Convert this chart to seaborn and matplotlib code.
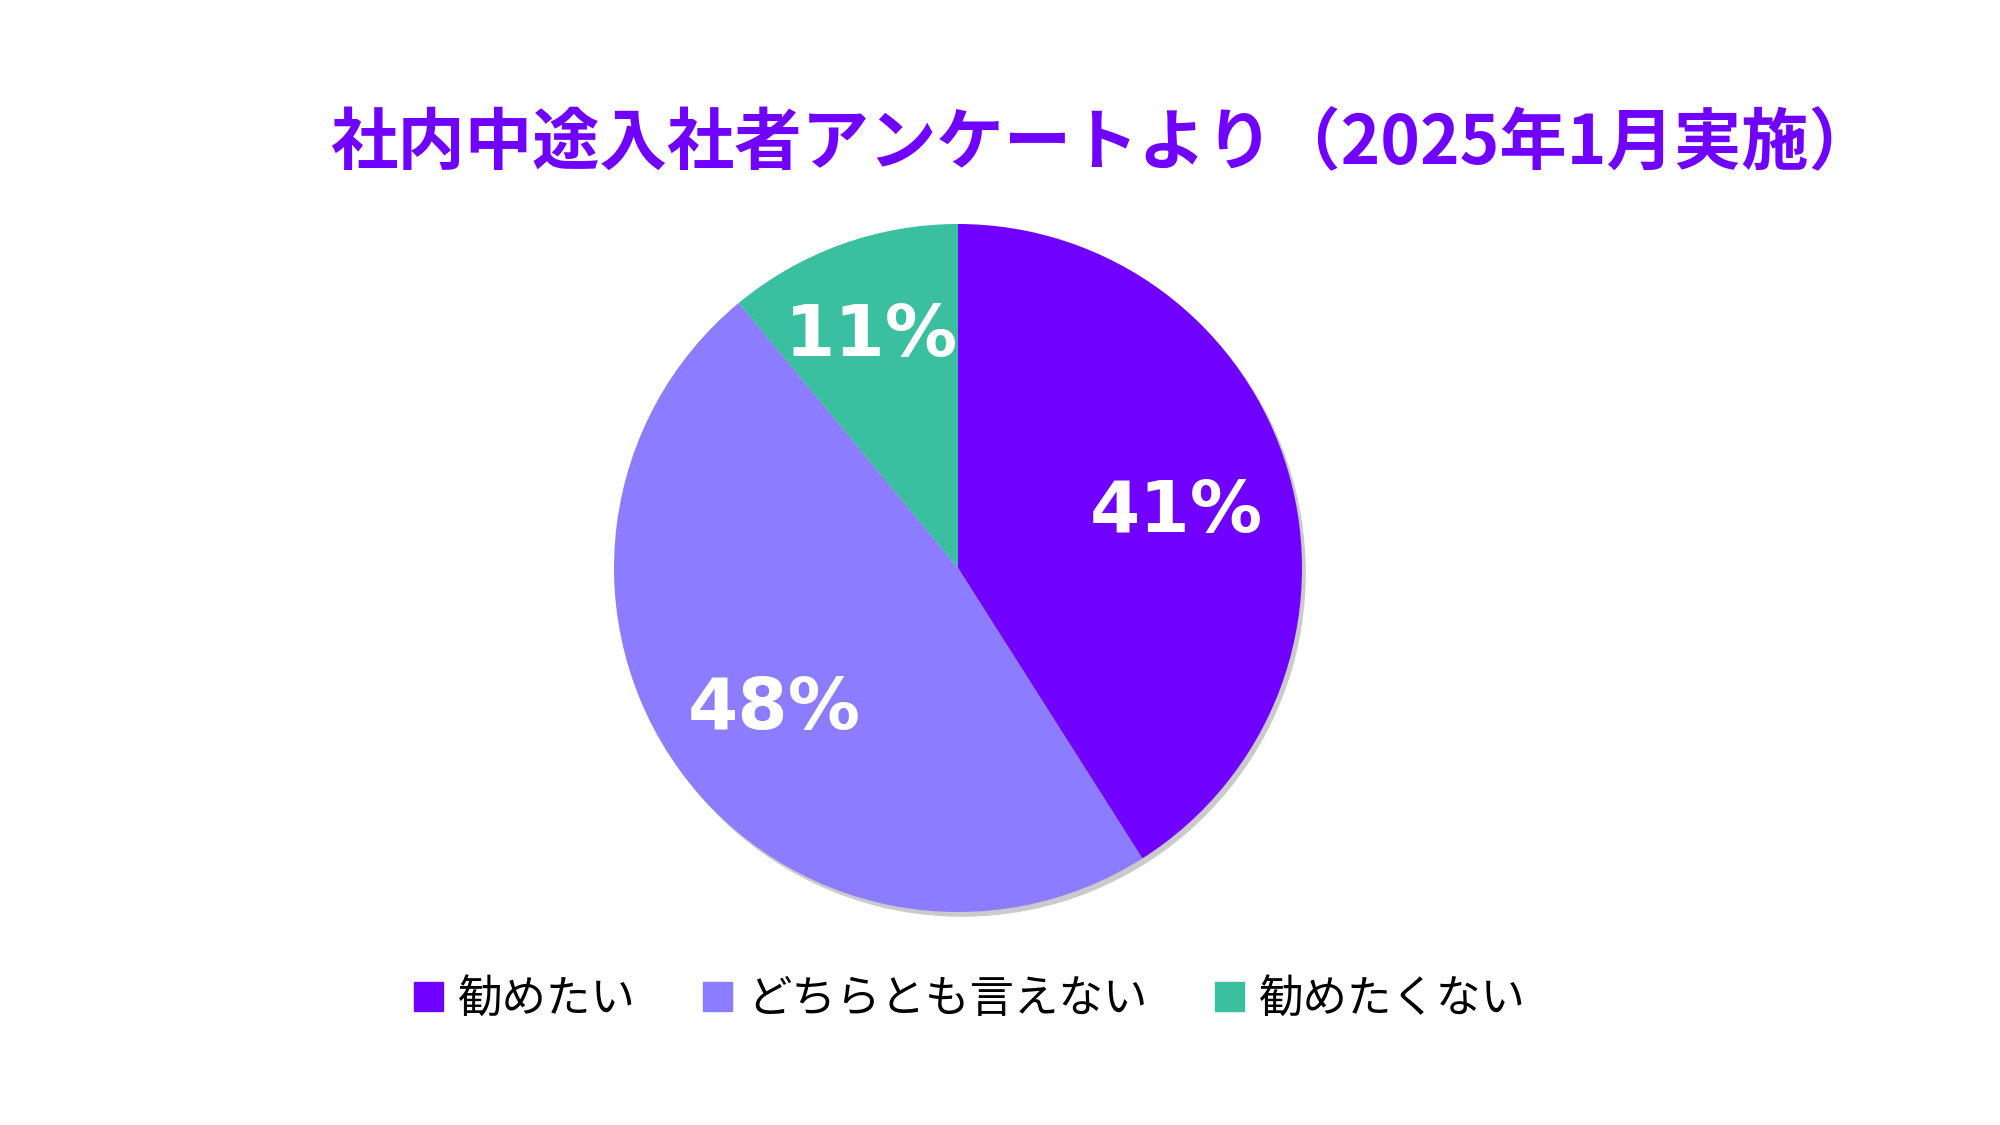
import matplotlib
matplotlib.use("Agg")
import matplotlib.pyplot as plt
import matplotlib.patches as mpatches
import seaborn as sns

# survey answers
labels = ["勧めたい", "どちらとも言えない", "勧めたくない"]
shares = [41, 48, 11]
colors = ["#7000FF", "#8C7CFF", "#3ABFA0"]
title = "社内中途入社者アンケートより（2025年1月実施）"

sns.set_theme(style="white")
plt.rcParams['font.family'] = ['Noto Sans CJK JP', 'DejaVu Sans']

fig = plt.figure(figsize=(20, 11.25), dpi=100)
ax = fig.add_axes([0.307, 0.1893, 0.344, 0.6116])

wedges, texts, autotexts = ax.pie(
    shares,
    colors=colors,
    startangle=90,
    counterclock=False,
    autopct=lambda p: f"{p:.0f}%",
    pctdistance=0.66,
    shadow=dict(ox=0.008, oy=-0.01, facecolor="#8a8a8a",
                edgecolor="none", alpha=0.45),
    wedgeprops=dict(linewidth=0),
    textprops=dict(color="white", fontsize=52, fontweight="bold",
                   family=["DejaVu Sans"]),
)
# nudge labels: small slice a bit further out, all a touch lower
for i, t in enumerate(autotexts):
    x, y = t.get_position()
    k = 0.74 / 0.66 if i == 2 else 1.0
    t.set_position((x * k, y * k - 0.022))

ax.set_xlim(-1, 1)
ax.set_ylim(-1, 1)
ax.set_aspect("equal")
ax.axis("off")

fig.text(0.5515, 0.871, title, ha="center", va="center",
         fontsize=48.5, fontweight="bold", color="#7000FF")

handles = [mpatches.Patch(color=c, label=l) for c, l in zip(colors, labels)]
fig.legend(handles=handles, loc="center", bbox_to_anchor=(0.485, 0.112),
           ncol=3, frameon=False, fontsize=32, handlelength=0.65,
           handleheight=0.65, handletextpad=0.35, columnspacing=1.5,
           labelcolor="black")

fig.savefig("out.png", dpi=100, facecolor="white")
